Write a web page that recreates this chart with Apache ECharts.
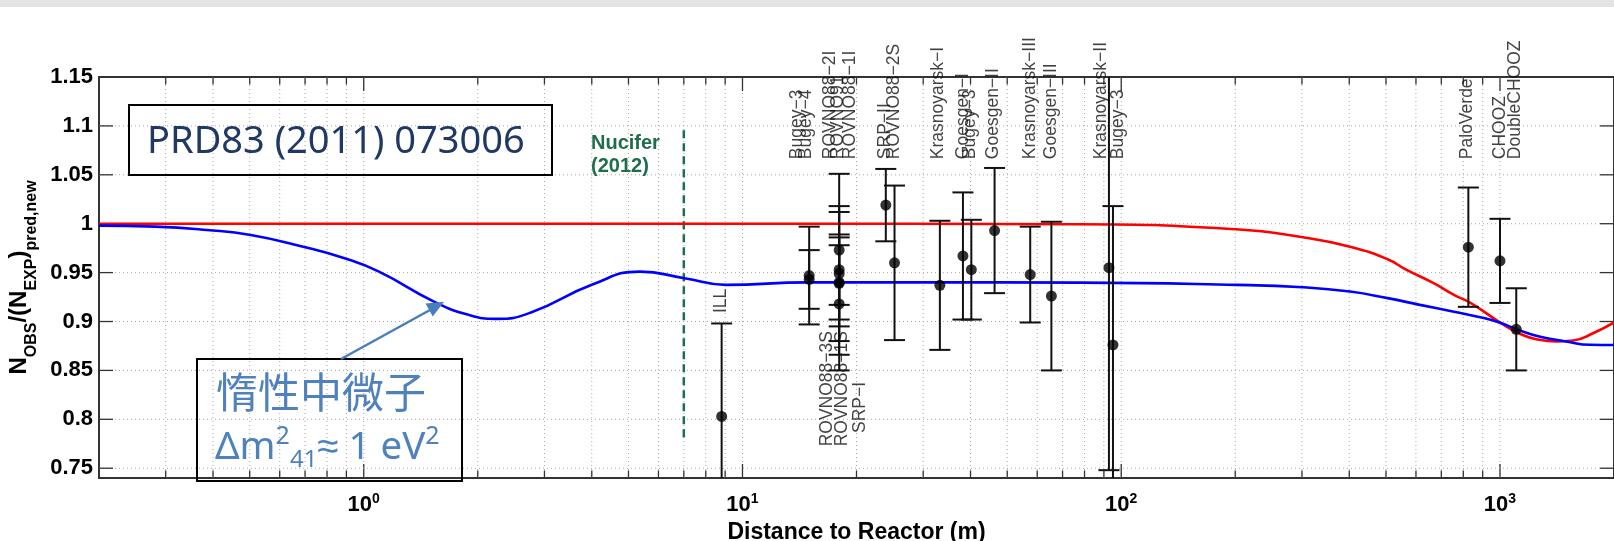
<!DOCTYPE html>
<html><head><meta charset="utf-8">
<script src="https://cdn.jsdelivr.net/npm/echarts@6.0.0/dist/echarts.min.js"></script>
<style>html,body{margin:0;padding:0;background:#fff}#c{width:1614px;height:541px}</style>
</head><body><div id="c"></div>
<script>
// ---------- axis ranges / ticks ----------
const X_MIN = 0.2, X_MAX = 2000, Y_MIN = 0.74, Y_MAX = 1.15;
const yTickValues = [0.75, 0.8, 0.85, 0.9, 0.95, 1, 1.05, 1.1, 1.15];

// ---------- experiments (distance m, ratio, error) ----------
const expNames = ['ILL','Bugey-4','Bugey-3','ROVNO88-1S','SRP-I','ROVNO88-2I','ROVNO91','ROVNO88-3S','ROVNO88-1I','SRP-II','ROVNO88-2S','Krasnoyarsk-I','Goesgen-I','Bugey-3','Goesgen-II','Krasnoyarsk-III','Goesgen-III','Krasnoyarsk-II','Bugey-3','PaloVerde','CHOOZ','DoubleCHOOZ'];
const expDist  = [8.81, 15, 15, 18, 18, 18, 18, 18, 18, 23.9, 25.2, 33.2, 38.2, 40.2, 46.3, 57.5, 65.4, 92.8, 95.1, 825, 1000, 1104];
const expRatio = [0.803, 0.943, 0.947, 0.973, 0.953, 0.949, 0.940, 0.939, 0.918, 1.019, 0.960, 0.937, 0.967, 0.953, 0.993, 0.948, 0.926, 0.955, 0.876, 0.976, 0.962, 0.892];
const expErr   = [0.095, 0.030, 0.050, 0.078, 0.036, 0.069, 0.038, 0.073, 0.068, 0.037, 0.079, 0.066, 0.065, 0.051, 0.064, 0.049, 0.076, 0.207, 0.142, 0.061, 0.043, 0.042];

// ---------- curves ----------
const blueX = [0.2, 0.2815, 0.385, 0.503, 0.692, 0.89, 1.097, 1.533, 1.89, 2.234, 2.754, 4.0, 5.36, 7.03, 9.04, 14.9, 30, 77.7, 201, 302, 402, 505, 615, 756, 907, 1006, 1104, 1269, 1496, 1729, 2000];
const blueY = [0.998, 0.997, 0.9936, 0.9885, 0.9765, 0.9647, 0.951, 0.9204, 0.9068, 0.9027, 0.909, 0.9375, 0.951, 0.9443, 0.9375, 0.940, 0.940, 0.9398, 0.9375, 0.935, 0.9306, 0.9239, 0.917, 0.910, 0.9035, 0.8984, 0.8922, 0.8847, 0.8796, 0.8762, 0.876];
const redX = [0.2, 10, 77.7, 201, 302, 402, 505, 565, 668, 756, 838, 1006, 1144, 1269, 1407, 1560, 1766, 2000];
const redY = [1.0, 1.0, 0.9995, 0.9943, 0.9861, 0.9765, 0.9637, 0.953, 0.9392, 0.9272, 0.9188, 0.8984, 0.8864, 0.8813, 0.8796, 0.8806, 0.8882, 0.899];

// Nucifer (2012) position
const nuciferX = 7.0, nuciferY = [1.0956, 0.781];

// ---------- rotated experiment labels (text, anchor in data units) ----------
const labelText = ['Bugey−3','Bugey−4','ROVNO88−2I','ROVNO91','ROVNO88−1I','SRP−II','ROVNO88−2S','Krasnoyarsk−I','Goesgen−I','Bugey−3','Goesgen−II','Krasnoyarsk−III','Goesgen−III','Krasnoyarsk−II','Bugey−3','PaloVerde','CHOOZ','DoubleCHOOZ','ROVNO88−3S','ROVNO88−1S','SRP−I','ILL'];
const labelX = [13.98, 14.76, 17.0, 17.9, 19.2, 23.8, 25.2, 32.8, 38.2, 39.8, 45.9, 57.6, 65.4, 88.6, 98, 821, 1004, 1097, 16.76, 18.3, 20.4, 8.81];
const labelY = [1.066, 1.066, 1.066, 1.066, 1.066, 1.066, 1.066, 1.066, 1.066, 1.066, 1.066, 1.066, 1.066, 1.066, 1.066, 1.066, 1.066, 1.066, 0.7724, 0.7724, 0.786, 0.9086];

// ---------- build ----------
const FONT = 'Liberation Sans, Arial, Helvetica, sans-serif';
const xTicks = [];
[0.1, 1, 10, 100, 1000].forEach(d => { for (let m = 1; m <= 9; m++) { const v = +(m * d).toPrecision(6); if (v > X_MIN && v < X_MAX) xTicks.push([v, Y_MIN, m === 1 ? 1 : 0]); } });
const yTicks = yTickValues.map(v => [X_MIN, v]);

const gridStyle = { stroke: '#a8a8a8', lineWidth: 1, lineDash: [1, 3] };
const tickStyle = { stroke: '#333', lineWidth: 1.3 };

function renderXTick(params, api) {
  const v = api.value(0), major = api.value(2);
  const b = api.coord([v, Y_MIN]), t = api.coord([v, Y_MAX]);
  const len = major ? 14 : 7.5;
  return { type: 'group', children: [
    { type: 'line', shape: { x1: b[0], y1: b[1], x2: t[0], y2: t[1] }, style: gridStyle },
    { type: 'line', shape: { x1: b[0], y1: b[1], x2: b[0], y2: b[1] - len }, style: tickStyle },
    { type: 'line', shape: { x1: t[0], y1: t[1], x2: t[0], y2: t[1] + len }, style: tickStyle }
  ]};
}
function renderYTick(params, api) {
  const v = api.value(1);
  const l = api.coord([X_MIN, v]), r = api.coord([X_MAX, v]);
  const len = 14;
  const ch = [
    { type: 'line', shape: { x1: l[0], y1: l[1], x2: l[0] + len, y2: l[1] }, style: tickStyle },
    { type: 'line', shape: { x1: r[0], y1: r[1], x2: r[0] - len, y2: r[1] }, style: tickStyle }
  ];
  if (v < Y_MAX - 1e-9) ch.unshift({ type: 'line', shape: { x1: l[0], y1: l[1], x2: r[0], y2: r[1] }, style: gridStyle });
  return { type: 'group', children: ch };
}
function renderErr(params, api) {
  const x = api.value(0), y = api.value(1), e = api.value(2);
  const hiV = y + e, loV = y - e;
  const hi = api.coord([x, Math.min(hiV, Y_MAX)]);
  const lo = api.coord([x, Math.max(loV, Y_MIN)]);
  const st = { stroke: '#111', lineWidth: 2 };
  const hw = 10.5;
  const ch = [{ type: 'line', shape: { x1: hi[0], y1: hi[1], x2: lo[0], y2: lo[1] }, style: st }];
  if (hiV <= Y_MAX) ch.push({ type: 'line', shape: { x1: hi[0] - hw, y1: hi[1], x2: hi[0] + hw, y2: hi[1] }, style: st });
  if (loV >= Y_MIN) ch.push({ type: 'line', shape: { x1: lo[0] - hw, y1: lo[1], x2: lo[0] + hw, y2: lo[1] }, style: st });
  return { type: 'group', children: ch };
}
const isPow10 = v => Math.abs(Math.log10(v) - Math.round(Math.log10(v))) < 1e-6;

const chart = echarts.init(document.getElementById('c'), null, { renderer: 'canvas' });
chart.setOption({
  animation: false,
  backgroundColor: '#ffffff',
  grid: { left: 99, right: 0, top: 77, bottom: 63, containLabel: false, outerBoundsMode: 'none' },
  xAxis: [{
    type: 'log', logBase: 10, min: X_MIN, max: X_MAX, position: 'bottom',
    axisLine: { show: true, lineStyle: { color: '#333', width: 2 } },
    axisTick: { show: false }, splitLine: { show: false }, minorTick: { show: false },
    axisLabel: {
      margin: 14, showMinLabel: false, showMaxLabel: false,
      formatter: v => isPow10(v) ? '{b|10}{s|' + Math.round(Math.log10(v)) + '}' : '',
      rich: {
        b: { fontSize: 22, fontWeight: 'bold', fontFamily: FONT, color: '#000', lineHeight: 26 },
        s: { fontSize: 14, fontWeight: 'bold', fontFamily: FONT, color: '#000', lineHeight: 6, verticalAlign: 'top' }
      }
    },
    name: 'Distance to Reactor (m)', nameLocation: 'middle', nameGap: 38,
    nameTextStyle: { fontSize: 23, fontWeight: 'bold', fontFamily: FONT, color: '#000' }
  }, {
    type: 'log', logBase: 10, min: X_MIN, max: X_MAX, position: 'top',
    axisLine: { show: true, lineStyle: { color: '#333', width: 2 } },
    axisTick: { show: false }, axisLabel: { show: false }, splitLine: { show: false }
  }],
  yAxis: [{
    type: 'value', min: Y_MIN, max: Y_MAX, position: 'left',
    axisLine: { show: true, lineStyle: { color: '#333', width: 2 } },
    axisTick: { show: false }, splitLine: { show: false },
    axisLabel: { customValues: yTickValues, margin: 6, fontSize: 22, fontWeight: 'bold', fontFamily: FONT, color: '#000' },
    name: '{m|N}{s|OBS}{m|/(N}{s|EXP}{m|)}{s|pred,new}', nameLocation: 'middle', nameGap: 56,
    nameTextStyle: { rich: {
      m: { fontSize: 24, fontWeight: 'bold', fontFamily: FONT, color: '#000', lineHeight: 40 },
      s: { fontSize: 16, fontWeight: 'bold', fontFamily: FONT, color: '#000', lineHeight: 16, verticalAlign: 'bottom' }
    } }
  }, {
    type: 'value', min: Y_MIN, max: Y_MAX, position: 'right',
    axisLine: { show: true, lineStyle: { color: '#333', width: 2 } },
    axisTick: { show: false }, axisLabel: { show: false }, splitLine: { show: false }
  }],
  series: [
    { type: 'custom', name: 'xgrid', z: 1, silent: true, renderItem: renderXTick, data: xTicks, encode: { x: 0, y: 1 } },
    { type: 'custom', name: 'ygrid', z: 1, silent: true, renderItem: renderYTick, data: yTicks, encode: { x: 0, y: 1 } },
    { type: 'line', name: 'Nucifer', z: 2, silent: true, showSymbol: false, data: nuciferY.map(y => [nuciferX, y]),
      lineStyle: { color: '#1e6e4e', width: 2.5, type: [8, 5] } },
    { type: 'line', name: '3 flavour', z: 3, silent: true, showSymbol: false, smooth: 0.5,
      data: redX.map((x, i) => [x, redY[i]]), lineStyle: { color: '#ff0000', width: 2.6 } },
    { type: 'line', name: 'sterile', z: 3, silent: true, showSymbol: false, smooth: 0.5,
      data: blueX.map((x, i) => [x, blueY[i]]), lineStyle: { color: '#0000ff', width: 2.6 } },
    { type: 'custom', name: 'errors', z: 4, silent: true, renderItem: renderErr,
      data: expDist.map((d, i) => [d, expRatio[i], expErr[i]]), encode: { x: 0, y: 1 } },
    { type: 'scatter', name: 'data', z: 5, silent: true, symbolSize: 11, itemStyle: { color: '#000' },
      data: expDist.map((d, i) => ({ value: [d, expRatio[i]], name: expNames[i] })) },
    { type: 'scatter', name: 'labels', z: 6, silent: true, symbol: 'circle', symbolSize: 1,
      itemStyle: { color: 'rgba(0,0,0,0)' },
      label: { show: true, formatter: '{b}', rotate: 90, position: 'inside', align: 'left', verticalAlign: 'middle',
        fontSize: 17.5, fontFamily: FONT, color: '#111' },
      data: labelText.map((t, i) => ({ value: [labelX[i], labelY[i]], name: t })) }
  ],
  graphic: [
    { type: 'rect', z: 100, shape: { x: 0, y: 0, width: 1614, height: 7 }, style: { fill: '#e3e3e3' } },
    { type: 'rect', z: 100, shape: { x: 129, y: 105, width: 423, height: 70 }, style: { fill: 'none', stroke: '#000', lineWidth: 2 } },
    { type: 'text', z: 100, x: 147, y: 142, style: { text: 'PRD83 (2011) 073006', fontSize: 38, fontFamily: 'Noto Sans, Open Sans, sans-serif', fill: '#1f3864', align: 'left', verticalAlign: 'middle' } },
    { type: 'text', z: 100, x: 591, y: 155, style: { text: 'Nucifer\n(2012)', fontSize: 20, fontWeight: 'bold', lineHeight: 23, fontFamily: FONT, fill: '#1e6e4e', align: 'left', verticalAlign: 'middle' } },
    { type: 'rect', z: 100, shape: { x: 197, y: 359, width: 265, height: 122 }, style: { fill: 'none', stroke: '#000', lineWidth: 2 } },
    { type: 'text', z: 100, x: 216, y: 392, style: { text: '惰性中微子', fontSize: 42, fontFamily: 'Noto Sans CJK SC, sans-serif', fill: '#4f81bd', align: 'left', verticalAlign: 'middle' } },
    { type: 'text', z: 100, x: 215, y: 448, style: {
        text: '{m|Δm}{sp|2}{sb|41}{m|≈ 1 eV}{sp|2}', align: 'left', verticalAlign: 'middle', fill: '#4f81bd',
        rich: {
          m: { fontSize: 38.5, fontFamily: 'Noto Sans, sans-serif', fill: '#4f81bd', color: '#4f81bd', lineHeight: 48 },
          sp: { fontSize: 25, fontFamily: 'Noto Sans, sans-serif', fill: '#4f81bd', color: '#4f81bd', lineHeight: 20, verticalAlign: 'top' },
          sb: { fontSize: 24, fontFamily: 'Noto Sans, sans-serif', fill: '#4f81bd', color: '#4f81bd', lineHeight: 20, verticalAlign: 'bottom' }
        } } },
    { type: 'line', z: 100, shape: { x1: 341, y1: 359, x2: 430, y2: 310 }, style: { stroke: '#4a7ebb', lineWidth: 2.5 } },
    { type: 'polygon', z: 100, shape: { points: [[444, 301.7], [432.8, 316.5], [425.5, 303.4]] }, style: { fill: '#4a7ebb' } }
  ]
});
</script>
</body></html>
